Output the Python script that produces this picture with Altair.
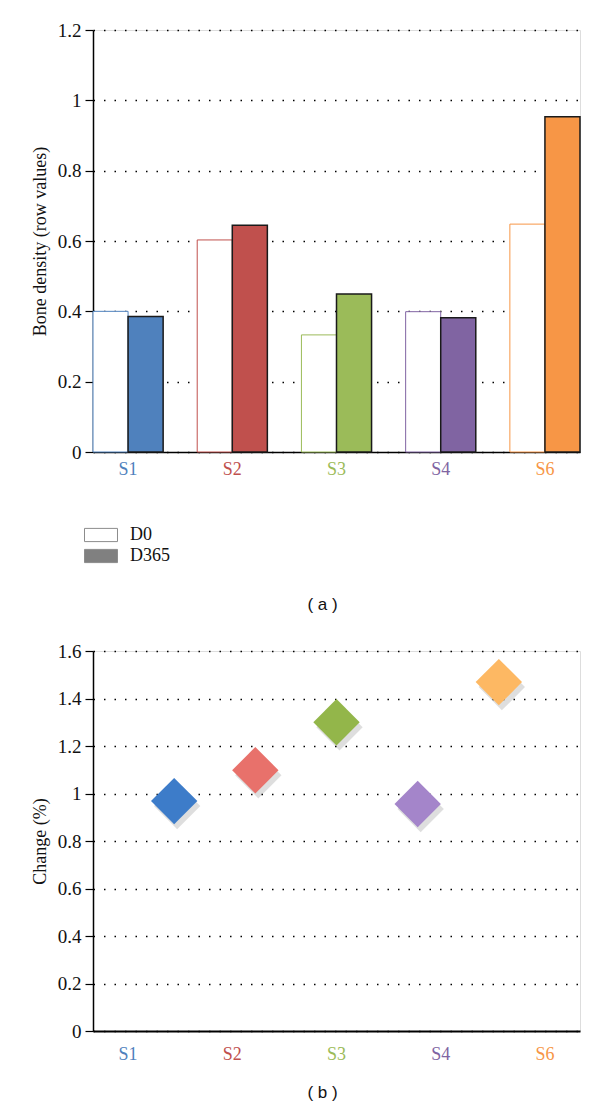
import altair as alt
import pandas as pd

# ---------------- data ----------------
categories = ["S1", "S2", "S3", "S4", "S6"]
periods = ["D0", "D365"]
d0_values = [0.400, 0.603, 0.333, 0.399, 0.648]
d365_values = [0.385, 0.645, 0.449, 0.382, 0.953]
change_values = [0.968, 1.098, 1.300, 0.956, 1.469]
diamond_slots = [1, 2, 3, 4, 5]

bar_colors = ["#4F81BD", "#C0504D", "#9BBB59", "#8064A2", "#F79646"]
label_colors = ["#4F81BD", "#C0504D", "#9BBB59", "#8064A2", "#F79646"]
diamond_colors = ["#3D7CC9", "#E8716B", "#93B64A", "#A485CA", "#FDB863"]
legend_colors = ["#FFFFFF", "#808080"]

yticks_a = [0, 0.2, 0.4, 0.6, 0.8, 1, 1.2]
yticks_b = [0, 0.2, 0.4, 0.6, 0.8, 1, 1.2, 1.4, 1.6]

SERIF = "Liberation Serif"
SANS = "Liberation Sans"

W = 487
HA = 422
HB = 380

d0_df = pd.DataFrame({"cat": categories, "period": "D0", "value": d0_values})
d365_df = pd.DataFrame({"cat": categories, "period": "D365", "value": d365_values})
cat_df = pd.DataFrame({"cat": categories})
legend_df = pd.DataFrame({"period": periods})
change_df = pd.DataFrame({"cat": categories, "slot": diamond_slots, "change": change_values})

band_scale = alt.Scale(type="band", domain=categories, paddingInner=0.327, paddingOuter=0)
x_bars = alt.X("cat:N", sort=categories, scale=band_scale,
               axis=alt.Axis(labels=False, ticks=False, title=None, grid=False,
                             domain=True, domainColor="#000", domainWidth=1.5))
xoff = alt.XOffset("period:N", scale=alt.Scale(domain=periods, paddingInner=0, paddingOuter=0))

grid_kw = dict(grid=True, gridColor="#000", gridDash=[1.5, 9], gridWidth=1.3,
               tickColor="#000", tickSize=8, tickWidth=1.2,
               domainColor="#000", domainWidth=1.5,
               labelFont=SERIF, labelFontSize=19, labelColor="#111", labelPadding=4,
               titleFont=SERIF, titleFontSize=18, titleFontWeight="normal",
               titleColor="#111", titlePadding=8, format="~g")

y_a = alt.Y("value:Q", scale=alt.Scale(domain=[0, 1.2], nice=False),
            axis=alt.Axis(values=yticks_a, title="Bone density (row values)", **grid_kw))

cat_color = alt.Color("cat:N", scale=alt.Scale(domain=categories, range=bar_colors), legend=None)

d0_layer = alt.Chart(d0_df).mark_bar(fill="white", strokeWidth=1).encode(
    x=x_bars, xOffset=xoff, y=y_a,
    stroke=alt.Stroke("cat:N", scale=alt.Scale(domain=categories, range=bar_colors), legend=None),
)
d365_layer = alt.Chart(d365_df).mark_bar(stroke="#1a1a1a", strokeWidth=1.5).encode(
    x=x_bars, xOffset=xoff, y=y_a, color=cat_color,
)
legend_layer = alt.Chart(legend_df).mark_square(opacity=0, size=0).encode(
    x=alt.value(0), y=alt.value(0),
    fill=alt.Fill("period:N", scale=alt.Scale(domain=periods, range=legend_colors),
                  legend=alt.Legend(title=None, orient="none", legendX=-1, legendY=496,
                                    direction="vertical",
                                    symbolType="M-2,-0.8H2V0.8H-2Z", symbolSize=272,
                                    symbolStrokeColor="#8c8c8c", symbolStrokeWidth=1,
                                    symbolOpacity=1,
                                    labelFont=SERIF, labelFontSize=18, labelColor="#111",
                                    labelOffset=20, rowPadding=3)),
)
labels_a = alt.Chart(cat_df).mark_text(font=SERIF, fontSize=18, baseline="middle").encode(
    x=alt.X("cat:N", sort=categories, scale=band_scale),
    y=alt.value(HA + 18),
    text=alt.Text("cat:N"),
    color=cat_color,
)

panel_a = alt.layer(d0_layer, d365_layer, legend_layer, labels_a).properties(
    width=W, height=HA,
    title=alt.TitleParams("( a )", orient="bottom", anchor="middle", frame="group",
                          font=SANS, fontSize=17, fontWeight="normal", color="#111",
                          offset=118, dx=-14),
)

# ---------------- panel b ----------------
y_b = alt.Y("change:Q", scale=alt.Scale(domain=[0, 1.6], nice=False),
            axis=alt.Axis(values=yticks_b, title="Change (%)", **grid_kw))
x_slot = alt.X("slot:Q", scale=alt.Scale(domain=[0, 6], nice=False, zero=False), axis=None)

shadow = alt.Chart(change_df).mark_point(shape="diamond", filled=True, size=2150,
                                        color="#000", opacity=0.13, xOffset=3, yOffset=5).encode(
    x=x_slot, y=y_b)
diamonds = alt.Chart(change_df).mark_point(shape="diamond", filled=True, size=2150, opacity=1).encode(
    x=x_slot, y=y_b,
    color=alt.Color("cat:N", scale=alt.Scale(domain=categories, range=diamond_colors), legend=None),
)
labels_b = alt.Chart(cat_df).mark_text(font=SERIF, fontSize=18, baseline="middle").encode(
    x=alt.X("cat:N", sort=categories, scale=band_scale,
            axis=alt.Axis(labels=False, ticks=False, title=None, grid=False,
                          domain=True, domainColor="#000", domainWidth=2)),
    y=alt.value(HB + 24),
    text=alt.Text("cat:N"),
    color=alt.Color("cat:N", scale=alt.Scale(domain=categories, range=label_colors), legend=None),
)

panel_b = alt.layer(labels_b, shadow, diamonds).resolve_scale(
    x="independent", color="independent"
).properties(
    width=W, height=HB,
    title=alt.TitleParams("( b )", orient="bottom", anchor="middle", frame="group",
                          font=SANS, fontSize=17, fontWeight="normal", color="#111",
                          offset=21, dx=-14),
)

chart = alt.vconcat(panel_a, panel_b, spacing=27).properties(
    padding={"left": 22, "top": 12, "right": 5, "bottom": 5},
).configure_view(stroke=None).configure(background="white")

chart.save("out.html", embed_options={"renderer": "svg", "actions": False})
